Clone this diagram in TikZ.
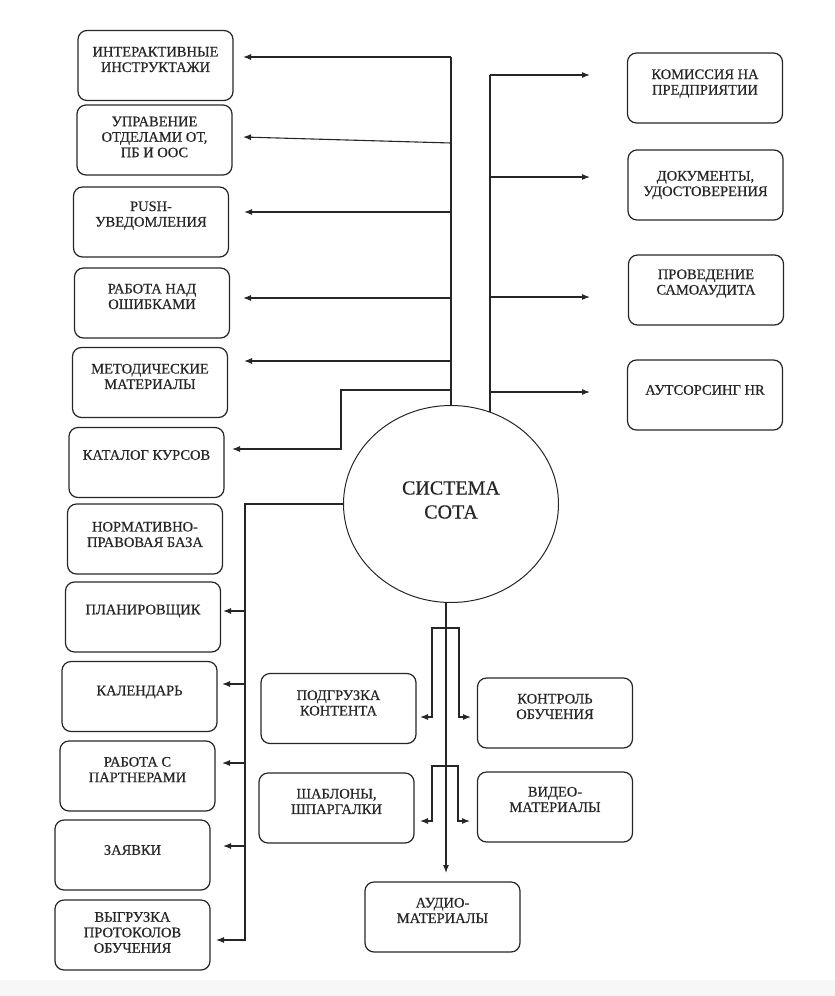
\documentclass[tikz,border=0pt]{standalone}
\usepackage{fontspec}
\setmainfont{Liberation Serif}
\newfontfamily\boxfont[FakeBold=0.5]{Liberation Serif}
\usetikzlibrary{arrows.meta,shapes.geometric}
\newcommand\mybox[5]{\node[boxst] (#1) at (#2,#3) {}; \node[txt] (#1t) at (#2,#4) {#5};}
\begin{document}
\begin{tikzpicture}[x=1pt,y=-1pt,
  boxst/.style={draw=black!85, line width=1.2pt, rounded corners=9pt, minimum width=155pt, minimum height=70pt, inner sep=0pt},
  txt/.style={align=center, font=\boxfont\fontsize{14.5}{15.5}\selectfont, text=black!85, inner sep=0pt},
  ln/.style={draw=black!85, line width=1.1pt},
  arr/.style={ln, -{Latex[length=8pt,width=6pt]}},
  arr2/.style={ln, {Latex[length=8pt,width=6pt]}-{Latex[length=8pt,width=6pt]}},
]
\useasboundingbox (0,0) rectangle (835,996);
\fill[black!3] (0,980) rectangle (835,996);

% left column
\mybox{b1}{155.5}{65.5}{59.5}{ИНТЕРАКТИВНЫЕ\\ИНСТРУКТАЖИ}
\mybox{b2}{154.5}{140}{137}{УПРАВЕНИЕ\\ОТДЕЛАМИ ОТ,\\ПБ И ООС}
\mybox{b3}{151}{222}{215.5}{PUSH-\\УВЕДОМЛЕНИЯ}
\mybox{b4}{152}{303}{296.5}{РАБОТА НАД\\ОШИБКАМИ}
\mybox{b5}{150}{382.5}{376.5}{МЕТОДИЧЕСКИЕ\\МАТЕРИАЛЫ}
\mybox{b6}{146.5}{462.5}{455}{КАТАЛОГ КУРСОВ}
\mybox{b7}{145}{539}{534.5}{НОРМАТИВНО-\\ПРАВОВАЯ БАЗА}
\mybox{b8}{143}{617}{611}{ПЛАНИРОВЩИК}
\mybox{b9}{139.5}{696.5}{692}{КАЛЕНДАРЬ}
\mybox{b10}{137.5}{776}{769.5}{РАБОТА С\\ПАРТНЕРАМИ}
\mybox{b11}{132.5}{855}{850}{ЗАЯВКИ}
\mybox{b12}{132.5}{935}{932.5}{ВЫГРУЗКА\\ПРОТОКОЛОВ\\ОБУЧЕНИЯ}

% right column
\mybox{r1}{705}{88}{83.5}{КОМИССИЯ НА\\ПРЕДПРИЯТИИ}
\mybox{r2}{705.5}{185}{185}{ДОКУМЕНТЫ,\\УДОСТОВЕРЕНИЯ}
\mybox{r3}{706}{290}{283.5}{ПРОВЕДЕНИЕ\\САМОАУДИТА}
\mybox{r4}{705}{395}{390}{АУТСОРСИНГ HR}

% bottom group
\mybox{c1}{338.5}{708.5}{703}{ПОДГРУЗКА\\КОНТЕНТА}
\mybox{c2}{555}{713}{706.5}{КОНТРОЛЬ\\ОБУЧЕНИЯ}
\mybox{c3}{336.5}{808}{801.5}{ШАБЛОНЫ,\\ШПАРГАЛКИ}
\mybox{c4}{555}{807}{799.5}{ВИДЕО-\\МАТЕРИАЛЫ}
\mybox{c5}{442.5}{917}{910.5}{АУДИО-\\МАТЕРИАЛЫ}

% centre
\node[draw=black!85, line width=1pt, ellipse, minimum width=215pt, minimum height=197pt, inner sep=0pt] (circ) at (451,504) {};
\node[align=center, font=\boxfont\fontsize{20}{24}\selectfont, text=black!85, inner sep=0pt] (circt) at (451,500) {СИСТЕМА\\СОТА};

% upper-left trunk
\coordinate (tTop) at (451,57);
\coordinate (t2) at (451,143);
\coordinate (t3) at (451,212);
\coordinate (t4) at (451,298);
\coordinate (t5) at (451,361);
\coordinate (t6) at (451,390);
\coordinate (a1) at (243,57);
\coordinate (a2) at (243,137);
\coordinate (a3) at (244,212);
\coordinate (a4) at (243,298);
\coordinate (a5) at (244,361);
\coordinate (k1) at (341,390);
\coordinate (k2) at (341,449);
\coordinate (a6) at (232,449);
\draw[ln] (circ.north) -- (tTop);
\draw[arr] (tTop) -- (a1);
\draw[arr] (t2) -- (a2);
\draw[arr] (t3) -- (a3);
\draw[arr] (t4) -- (a4);
\draw[arr] (t5) -- (a5);
\draw[arr] (t6) -- (k1) -- (k2) -- (a6);

% right trunk
\coordinate (rBase) at (490,412);
\coordinate (rTop) at (490,75);
\coordinate (r2s) at (490,177);
\coordinate (r3s) at (490,297);
\coordinate (r4s) at (490,392);
\coordinate (ra1) at (590,75);
\coordinate (ra2) at (590,177);
\coordinate (ra3) at (590,297);
\coordinate (ra4) at (590,392);
\draw[ln] (rBase) -- (rTop);
\draw[arr] (rTop) -- (ra1);
\draw[arr] (r2s) -- (ra2);
\draw[arr] (r3s) -- (ra3);
\draw[arr] (r4s) -- (ra4);

% lower-left trunk
\coordinate (lc) at (245,504);
\coordinate (lb) at (245,940);
\coordinate (l8) at (245,611);
\coordinate (l9) at (245,684);
\coordinate (l10) at (245,763);
\coordinate (l11) at (245,846);
\coordinate (la8) at (223,611);
\coordinate (la9) at (222,684);
\coordinate (la10) at (222,763);
\coordinate (la11) at (223,846);
\coordinate (la12) at (216,940);
\draw[arr] (circ.west) -- (lc) -- (lb) -- (la12);
\draw[arr] (l8) -- (la8);
\draw[arr] (l9) -- (la9);
\draw[arr] (l10) -- (la10);
\draw[arr] (l11) -- (la11);

% bottom trunk and brackets
\coordinate (bt) at (446,603);
\coordinate (bb) at (446,873);
\draw[arr] (bt) -- (bb);
\coordinate (q1) at (420,717);
\coordinate (q2) at (432,717);
\coordinate (q3) at (432,628);
\coordinate (q4) at (459,628);
\coordinate (q5) at (459,717);
\coordinate (q6) at (471,717);
\draw[arr2] (q1) -- (q2) -- (q3) -- (q4) -- (q5) -- (q6);
\coordinate (p1) at (420,821);
\coordinate (p2) at (432,821);
\coordinate (p3) at (432,766);
\coordinate (p4) at (458,766);
\coordinate (p5) at (458,821);
\coordinate (p6) at (470,821);
\draw[arr2] (p1) -- (p2) -- (p3) -- (p4) -- (p5) -- (p6);
\end{tikzpicture}
\end{document}
